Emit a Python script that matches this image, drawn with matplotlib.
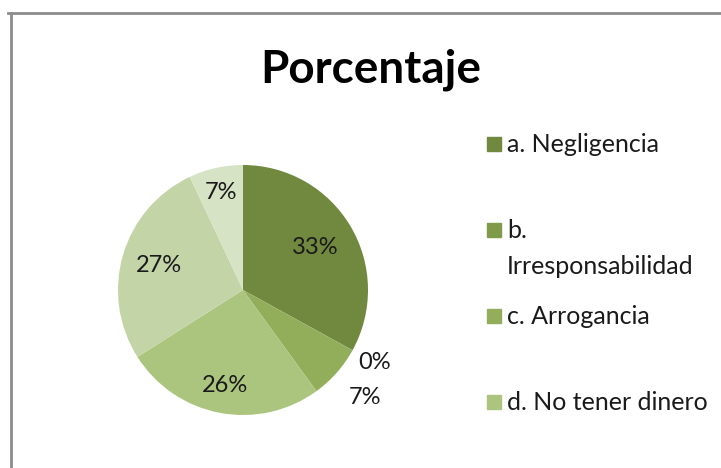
import matplotlib.pyplot as plt
from matplotlib.patches import Rectangle
from matplotlib.lines import Line2D
import numpy as np

plt.rcParams['font.family'] = ['Lato', 'DejaVu Sans']

# data (clockwise from 12 o'clock)
categories = ['a. Negligencia', 'b.\nIrresponsabilidad', 'c. Arrogancia',
              'd. No tener dinero', 'e.', 'f.']
values = [33, 0, 7, 26, 27, 7]
colors = ['#71893f', '#7f9a48', '#93ae5b', '#abc57e', '#c3d4a7', '#d7e3c5']
legend_shown = 4  # the original legend is cut after d.

W, H = 721, 468
fig = plt.figure(figsize=(W / 100, H / 100), dpi=100)

# chart frame (only top and left edges visible in the crop)
fig.add_artist(Line2D([8 / W, 1], [1 - 13 / H] * 2, color='#8c8c8c', lw=2))
fig.add_artist(Line2D([11 / W] * 2, [0, 1 - 13 / H], color='#8c8c8c', lw=2))

fig.text(371 / W, 1 - 70 / H, 'Porcentaje', ha='center', va='center',
         fontsize=33, fontweight='bold')

r = 125
ax = fig.add_axes([(243 - r) / W, (H - 290 - r) / H, 2 * r / W, 2 * r / H])
wedges, _ = ax.pie(values, colors=colors, startangle=90, counterclock=False,
                   radius=1, wedgeprops=dict(linewidth=0))
ax.set_xlim(-1, 1)
ax.set_ylim(-1, 1)
ax.set_aspect('equal')

# label radius per wedge (small ones sit outside)
radii = [0.67, 1.2, 1.3, 0.78, 0.7, 0.8]
for w, v, d in zip(wedges, values, radii):
    ang = np.deg2rad((w.theta1 + w.theta2) / 2)
    ax.text(d * np.cos(ang), d * np.sin(ang), f'{v}%', ha='center', va='center',
            fontsize=17, color='#1a1a1a', clip_on=False)

# legend drawn by hand, Excel style
ys = [144, 230, 316, 402]
for lab, col, y in zip(categories[:legend_shown], colors[:legend_shown], ys):
    fig.add_artist(Rectangle((487 / W, 1 - (y + 7) / H), 14 / W, 14 / H,
                             color=col, transform=fig.transFigure))
    lines = lab.split('\n')
    for i, line in enumerate(lines):
        fig.text(507 / W, 1 - (y + 36 * i) / H, line, ha='left', va='center',
                 fontsize=18, color='#1a1a1a')

fig.savefig('out.png', dpi=100)
